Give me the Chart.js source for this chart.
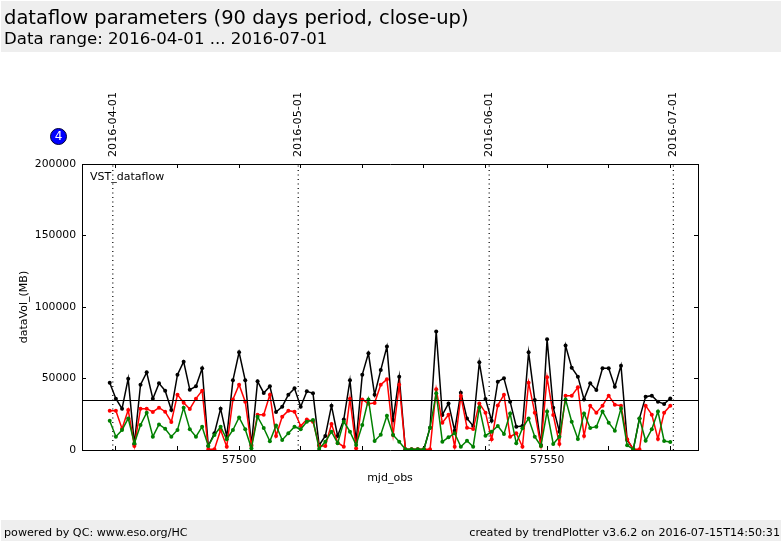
<!DOCTYPE html>
<html>
<head>
<meta charset="utf-8">
<title>dataflow parameters</title>
<script src="https://cdn.jsdelivr.net/npm/chart.js@4"></script>
<style>
  body { margin: 0; background: #fff; font-family: "DejaVu Sans", sans-serif; color: #000; }
  #wrap { position: relative; width: 782px; height: 542px; overflow: hidden; }
  canvas { position: absolute; left: 0; top: 0; }
  .bar { position: absolute; left: 1px; width: 780px; background: #eeeeee; }
  #head { top: 1px; height: 51px; }
  #foot { top: 520px; height: 21px; }
  .txt { position: absolute; white-space: nowrap; }
  #badge { position: absolute; left: 50px; top: 128px; width: 15px; height: 15px; border-radius: 50%;
    background: #0000ff; border: 1px solid #000033; color: #fff; font-size: 12px; line-height: 15px; text-align: center; }
</style>
</head>
<body>
<div id="wrap">
  <div class="bar" id="head"></div>
  <div class="bar" id="foot"></div>
  <canvas id="chart" width="782" height="542"></canvas>
  <div class="txt" style="left:4px;top:6px;font-size:19.5px">dataflow parameters (90 days period, close-up)</div>
  <div class="txt" style="left:4px;top:29px;font-size:16.6px">Data range: 2016-04-01 ... 2016-07-01</div>
  <div class="txt" style="left:4px;top:526px;font-size:11.15px">powered by QC: www.eso.org/HC</div>
  <div class="txt" style="right:2px;top:526px;font-size:11.15px">created by trendPlotter v3.6.2 on 2016-07-15T14:50:31</div>
  <div class="txt" style="left:90px;top:170px;font-size:11px">VST_dataflow</div>
  <div id="badge">4</div>
</div>
<script>
const mjdObs = [
  57479,57480,57481,57482,57483,57484,57485,57486,57487,57488,57489,57490,57491,57492,57493,57494,57495,57496,57497,57498,
  57499,57500,57501,57502,57503,57504,57505,57506,57507,57508,57509,57510,57511,57512,57513,57514,57515,57516,57517,57518,
  57519,57520,57521,57522,57523,57524,57525,57526,57527,57528,57529,57530,57531,57532,57533,57534,57535,57536,57537,57538,
  57539,57540,57541,57542,57543,57544,57545,57546,57547,57548,57549,57550,57551,57552,57553,57554,57555,57556,57557,57558,
  57559,57560,57561,57562,57563,57564,57565,57566,57567,57568,57569,57570
];
const totalVol = [
  47100,35900,28900,49900,4000,45700,54300,35900,46600,41500,28000,52700,61800,42200,44500,57100,2800,11700,28900,9300,
  48700,68300,48700,3500,48000,39900,44500,26600,30300,38700,43100,30300,41000,39600,3300,9800,31000,9800,21400,48700,
  5800,52700,67600,38700,55900,72300,21000,51300,300,300,300,300,15600,82800,24500,32600,13500,40100,22100,16800,
  61300,35700,20500,47800,50100,33800,16300,16800,68300,35000,3500,77400,29600,12800,73000,57600,51300,35400,46600,42000,
  57100,57100,44300,59000,7000,500,22100,37300,38000,33800,32200,36100
];
const redVol = [
  27500,27500,14900,28000,2800,28900,28900,26600,29600,26800,19600,38700,33100,28700,35900,41500,500,500,14000,2300,
  35400,45700,33800,2800,24700,24700,38700,9800,23300,27500,26800,16800,21400,19800,2800,2800,18200,5100,2300,35900,
  1200,35400,32400,32900,45700,49400,10500,45700,500,500,500,500,500,42400,19100,24700,2300,37800,15600,14700,
  32600,26100,7500,31200,38700,9300,11700,2300,47100,26100,2800,50800,24500,4200,38000,38000,43800,9800,31000,26100,
  31000,38000,31700,31000,7500,500,500,31000,24700,7700,26100,31000
];
const greenVol = [
  20500,9300,14000,22100,4700,17500,26100,9300,17900,14900,9300,14000,29600,14500,9300,16300,2800,10500,16300,7500,
  14000,22800,14500,1200,23300,15400,6100,17200,7000,11700,16300,14500,19800,21000,900,5800,12800,4700,19800,12800,
  3500,17500,35400,6300,10700,24000,10500,5800,500,500,500,500,15600,39600,5800,8900,11700,2300,6500,2300,
  29800,10000,12800,16800,11200,25600,4700,15200,22100,9300,2800,27000,4200,9300,35400,19800,7700,25600,15400,16300,
  27000,19100,13500,29100,3300,500,22100,6500,14500,27000,6300,5600
];
const refLevel = [34600, 34600];
const refRange = [57474.5, 57574.5];
const xTicks = [57480,57490,57500,57510,57520,57530,57540,57550,57560,57570];
const xLabelled = [57500, 57550];
const yTicks = [0, 50000, 100000, 150000, 200000];
const dateTicks = [57479.5, 57509.6, 57540.6, 57570.5];
const dateLabels = ["2016-04-01", "2016-05-01", "2016-06-01", "2016-07-01"];

const toPoints = (ys) => ys.map((y, i) => ({ x: mjdObs[i], y }));
const vline = (x) => ({
  data: [{ x, y: 0 }, { x, y: 200000 }],
  borderColor: "#000", borderWidth: 1.2, borderDash: [1, 3.5], pointRadius: 0
});
const series = (ys, color) => ({
  data: toPoints(ys),
  borderColor: color, backgroundColor: color,
  borderWidth: 1.5, pointRadius: 2, pointBorderWidth: 0, tension: 0
});
const setTicks = (list) => (s) => { s.ticks = list.map((value) => ({ value })); };

const font = { family: "'DejaVu Sans'", size: 10.8 };
const titleFont = { family: "'DejaVu Sans'", size: 11 };
const dateFont = { family: "'DejaVu Sans'", size: 11.2 };
const inTicks = { drawOnChartArea: false, tickLength: -4, color: "#000", lineWidth: 1 };
const edge = { color: "#000", width: 1 };

new Chart(document.getElementById("chart"), {
  type: "scatter",
  data: {
    datasets: [
      { data: [{ x: refRange[0], y: refLevel[0] }, { x: refRange[1], y: refLevel[1] }],
        borderColor: "#000", borderWidth: 1.2, pointRadius: 0 },
      series(greenVol, "#008000"),
      series(redVol, "#ff0000"),
      series(totalVol, "#000000"),
      ...dateTicks.map(vline)
    ].map((d) => ({ showLine: true, ...d }))
  },
  options: {
    responsive: false,
    animation: false,
    layout: { padding: 0 },
    plugins: { legend: { display: false }, tooltip: { enabled: false } },
    scales: {
      x: {
        type: "linear", position: "bottom", min: refRange[0], max: refRange[1],
        grid: inTicks, border: edge,
        afterFit: (s) => { s.height = 92; },
        afterBuildTicks: setTicks(xTicks),
        ticks: {
          autoSkip: false, maxRotation: 0, padding: 8, color: "#000", font,
          callback: (v) => (xLabelled.includes(v) ? String(v) : "")
        },
        title: { display: true, text: "mjd_obs", color: "#000", font: titleFont, padding: { top: 0, bottom: 57 } }
      },
      xTop: {
        type: "linear", position: "top", min: refRange[0], max: refRange[1], weight: 1,
        grid: inTicks, border: edge,
        afterFit: (s) => { s.height = 0; },
        afterBuildTicks: setTicks(xTicks),
        ticks: { autoSkip: false, maxRotation: 0, display: false }
      },
      xDates: {
        type: "linear", position: "top", min: refRange[0], max: refRange[1], weight: 2,
        grid: { display: false }, border: { display: false },
        afterFit: (s) => { s.height = 164; },
        afterBuildTicks: setTicks(dateTicks),
        ticks: {
          autoSkip: false, minRotation: 90, maxRotation: 90, padding: -1, labelOffset: 13.5, color: "#000", font: dateFont,
          callback: (v) => dateLabels[dateTicks.indexOf(v)]
        }
      },
      y: {
        type: "linear", position: "left", min: 0, max: 200000,
        grid: inTicks, border: edge,
        afterFit: (s) => { s.width = 82; },
        afterBuildTicks: setTicks(yTicks),
        ticks: { padding: 10, color: "#000", font, callback: (v) => String(v) },
        title: { display: true, text: "dataVol_(MB)", color: "#000", font: titleFont, padding: { top: 18, bottom: 0 } }
      },
      yRight: {
        type: "linear", position: "right", min: 0, max: 200000,
        grid: inTicks, border: edge,
        afterFit: (s) => { s.width = 84; },
        afterBuildTicks: setTicks(yTicks),
        ticks: { display: false }
      }
    }
  }
});
</script>
</body>
</html>
